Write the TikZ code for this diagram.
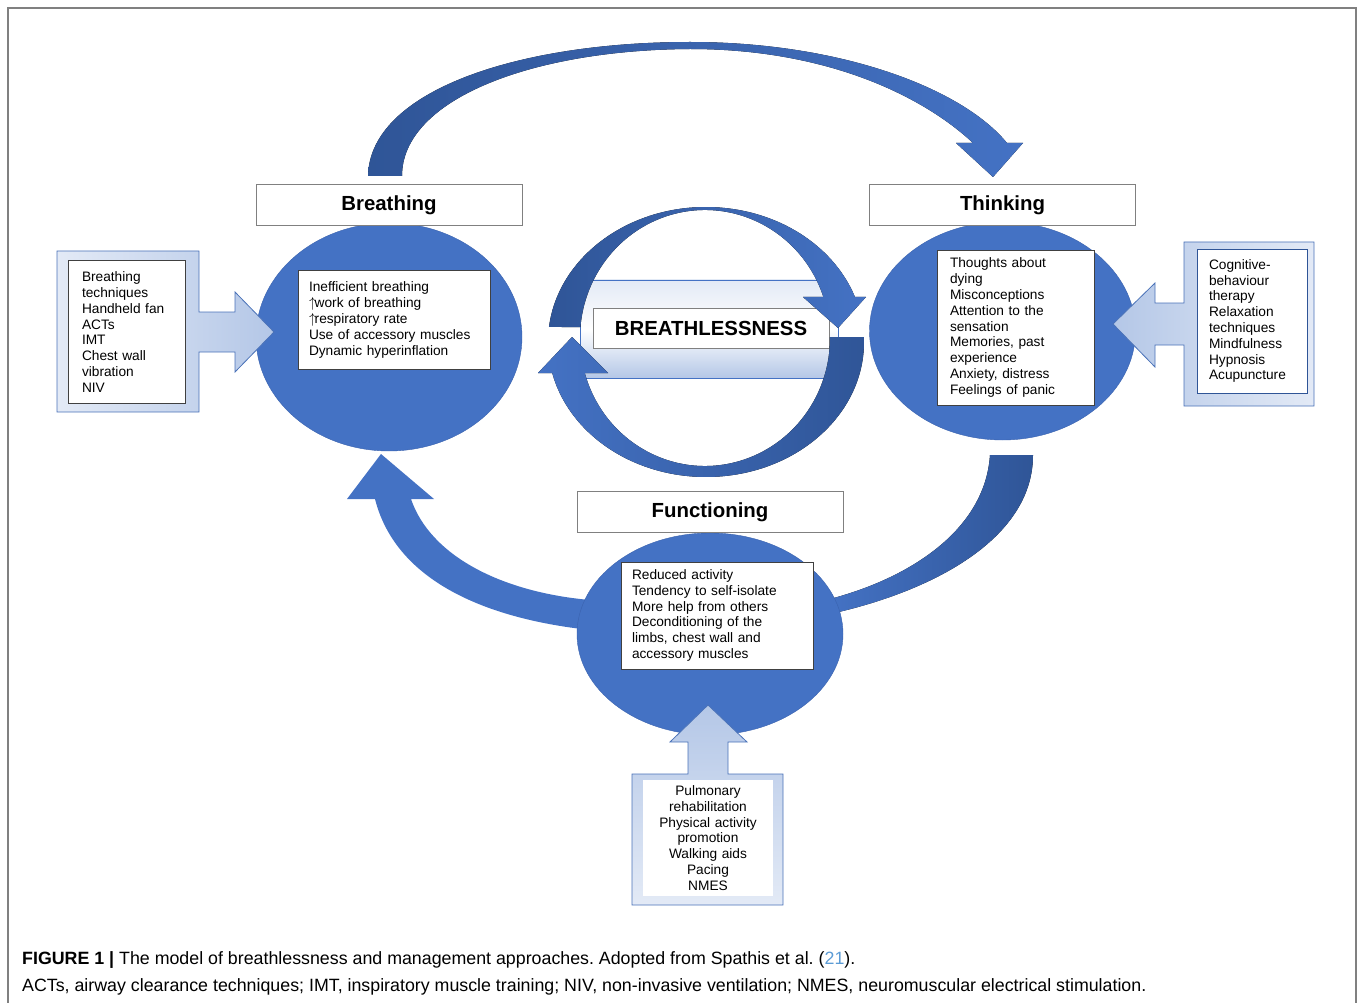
\documentclass[tikz,border=0pt]{standalone}
\usepackage{fontspec}
\setmainfont{Liberation Sans}
\usepackage{xcolor}
\usepackage{tikz}
\usetikzlibrary{shapes.geometric}
\usetikzlibrary{positioning}
\definecolor{cblue}{HTML}{4472C4}
\definecolor{cdark}{HTML}{2F5597}
\definecolor{cedge}{HTML}{3A62AE}
\definecolor{clight}{HTML}{B4C7E7}
\definecolor{cpale}{HTML}{E3EAF6}
\definecolor{cframe}{HTML}{4A72B8}
\definecolor{clink}{HTML}{5B9BD5}
\newcommand{\lstfnt}{\fontsize{13.7}{15.8}\selectfont}
\newcommand{\headfnt}{\fontsize{20.4}{24}\selectfont\bfseries}
\newcommand{\capfnt}{\fontsize{17.8}{20}\selectfont}
\newcommand{\upar}{$\uparrow$\kern-1.5pt}
\frenchspacing
\tikzstyle{bubble} =
[
	draw=cedge,ellipse,thin,fill=cblue,inner sep=0pt,
	minimum width=266pt
]
\tikzstyle{titlebox} =
[
	draw=gray,rectangle,thin,fill=white,inner sep=0pt,
	minimum width=266pt, minimum height=41pt, font=\headfnt
]
\tikzstyle{listbox} =
[
	draw=black!75,rectangle,thin,fill=white,inner sep=0pt,
	align=left, font=\lstfnt
]
\tikzstyle{callout} =
[
	draw=cframe,thick
]

\begin{document}
\begin{tikzpicture}[x=1pt,y=-1pt]

\useasboundingbox (0,0) rectangle (1358,1003);
\draw[gray,line width=1.2pt] (8,1010) -- (8,8) -- (1356,8) -- (1356,1010);

% loop arrows between the three circles
\fill[left color=cdark, right color=cblue]
	(368,176) .. controls (370,90) and (520,42) .. (690,42)
	.. controls (840,42) and (962,88) .. (1007,143)
	-- (1023,143) -- (993,177) -- (956,143) -- (973,143)
	.. controls (925,98) and (830,49) .. (690,49)
	.. controls (530,50) and (402,100) .. (402,176) -- cycle;
\fill[cblue]
	(590,630) .. controls (480,618) and (395,578) .. (375,499)
	-- (347,499) -- (381,454) -- (434,499) -- (411,499)
	.. controls (430,555) and (500,592) .. (590,600) -- cycle;
\fill[left color=cblue, right color=cdark]
	(1033,455) .. controls (1033,540) and (930,592) .. (830,614)
	-- (830,599) .. controls (910,578) and (985,530) .. (990,455) -- cycle;

\node[bubble, minimum height=228pt] (B1) at (389,337) {};
\node[titlebox, above=-3pt of B1] (B0) {Breathing};
\node[listbox, minimum width=192pt, minimum height=99pt, text width=170pt] (B2) at (394,320)
	{Inefficient breathing\\ \upar work of breathing\\ \upar respiratory rate\\ Use of accessory muscles\\ Dynamic hyperinflation};

\node[bubble, minimum height=218pt] (T1) at (1002.5,331) {};
\node[titlebox, above=-4pt of T1] (T0) {Thinking};
\node[listbox, minimum width=157pt, minimum height=155pt, text width=131pt] (T2) at (1015.5,327.5)
	{Thoughts about\\ dying\\ Misconceptions\\ Attention to the\\ sensation\\ Memories, past\\ experience\\ Anxiety, distress\\ Feelings of panic};

\node[bubble, minimum height=202pt] (F1) at (710,634) {};
\node[titlebox, above=0pt of F1] (F0) {Functioning};
\node[listbox, minimum width=192pt, minimum height=107pt, text width=170pt] (F2) at (717,615.5)
	{Reduced activity\\ Tendency to self-isolate\\ More help from others\\ Deconditioning of the\\ limbs, chest wall and\\ accessory muscles};

% central loop
\draw[cblue, top color=cpale, bottom color=clight, middle color=white] (580,280) rectangle (838,378);
\node[titlebox, minimum width=236pt, minimum height=40pt] (C1) at (711,328) {BREATHLESSNESS};
\fill[left color=cdark, right color=cblue]
	([shift={(706,342)}]186.4:158 and 135) arc[start angle=186.4, end angle=340.5, x radius=158, y radius=135]
	-- (866,297) -- (838,328) -- (803,297)
	-- ([shift={(705,338)}]341.3:125 and 128) arc[start angle=341.3, end angle=184.9, x radius=125, y radius=128] -- cycle;
\fill[left color=cblue, right color=cdark]
	([shift={(706,342)}]-2.1:158 and 135) arc[start angle=-2.1, end angle=166.7, x radius=158, y radius=135]
	-- (538,373) -- (572,337) -- (608,373)
	-- ([shift={(705,338)}]164.1:125 and 128) arc[start angle=164.1, end angle=-0.4, x radius=125, y radius=128] -- cycle;

% management approaches
\draw[callout, left color=cpale, right color=clight]
	(57,251) -- (199,251) -- (199,312) -- (235,312) -- (235,292) -- (274,332)
	-- (235,372) -- (235,352) -- (199,352) -- (199,412) -- (57,412) -- cycle;
\node[listbox, minimum width=117pt, minimum height=143pt, text width=89pt] (M1) at (126.5,332)
	{Breathing\\ techniques\\ Handheld fan\\ ACTs\\ IMT\\ Chest wall\\ vibration\\ NIV};

\draw[callout, left color=clight, right color=cpale]
	(1314,242) -- (1184,242) -- (1184,303) -- (1155,303) -- (1155,283) -- (1113,324)
	-- (1155,367) -- (1155,345) -- (1184,345) -- (1184,406) -- (1314,406) -- cycle;
\node[listbox, draw=cdark, minimum width=110pt, minimum height=144pt, text width=86pt] (M2) at (1252,321)
	{Cognitive-\\ behaviour\\ therapy\\ Relaxation\\ techniques\\ Mindfulness\\ Hypnosis\\ Acupuncture};

\draw[callout, top color=clight, bottom color=cpale]
	(632,774) -- (688,774) -- (688,742) -- (670,742) -- (708,705) -- (747,742)
	-- (728,742) -- (728,774) -- (783,774) -- (783,905) -- (632,905) -- cycle;
\node[listbox, draw=none, align=center, minimum width=130pt, minimum height=116pt, text width=120pt] (M3) at (708,838)
	{Pulmonary\\ rehabilitation\\ Physical activity\\ promotion\\ Walking aids\\ Pacing\\ NMES};

% caption
\node[anchor=base west, font=\capfnt, inner sep=0pt] (L1) at (22,964)
	{\textbf{FIGURE 1 |} The model of breathlessness and management approaches. Adopted from Spathis et al. ({\color{clink}21}).};
\node[anchor=base west, font=\capfnt, inner sep=0pt] (L2) at (22,991)
	{ACTs, airway clearance techniques; IMT, inspiratory muscle training; NIV, non-invasive ventilation; NMES, neuromuscular electrical stimulation.};

\end{tikzpicture}
\end{document}
